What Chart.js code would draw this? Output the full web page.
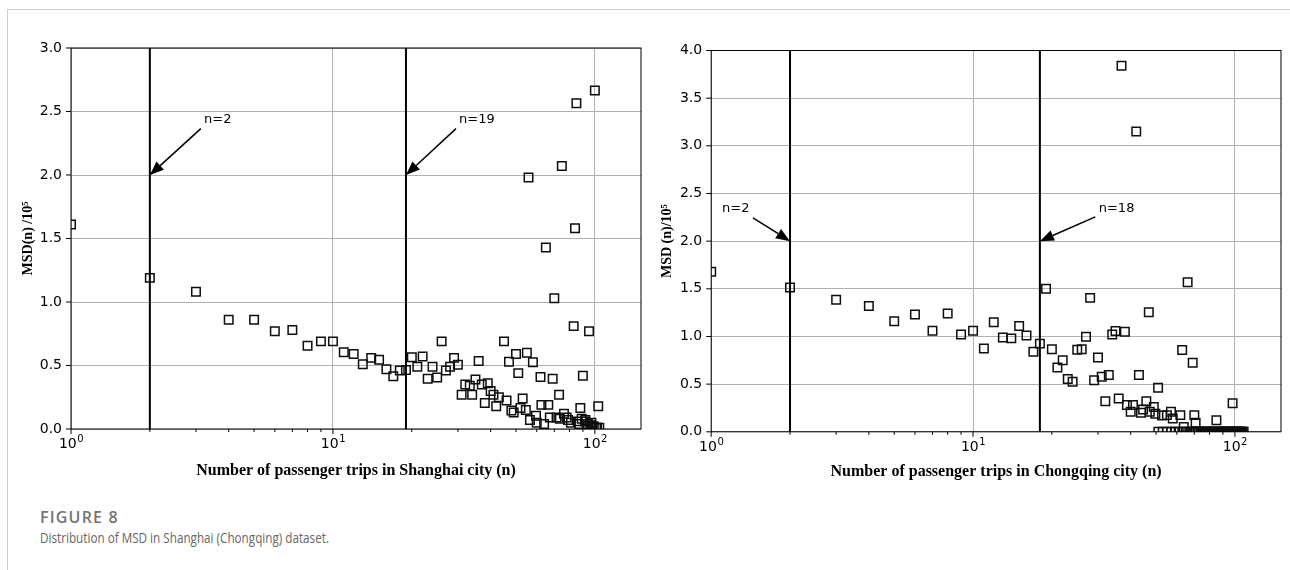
<!DOCTYPE html>
<html>
<head>
<meta charset="utf-8">
<script src="https://cdn.jsdelivr.net/npm/chart.js@4.4.1/dist/chart.umd.min.js"></script>
<style>
  html, body { margin: 0; padding: 0; background: #fff; }
  body { width: 1290px; height: 570px; position: relative; overflow: hidden; }
  .frame { position: absolute; left: 7px; top: 9px; right: 0; bottom: 0;
           border-top: 1px solid #cdcdcd; border-left: 1px solid #cdcdcd; }
  #shanghai { position: absolute; left: 0; top: 0; }
  #chongqing { position: absolute; left: 645px; top: 0; }
  .fig { position: absolute; left: 40px; top: 507px; font: 600 16px/20px "Open Sans", sans-serif;
         letter-spacing: 1.2px; color: #737373; white-space: nowrap; }
  .desc { position: absolute; left: 40px; top: 527px; font: 400 15px/20px "Open Sans", sans-serif;
          color: #666; white-space: nowrap; transform: scaleX(0.78); transform-origin: left top; }
</style>
</head>
<body>
<div class="frame"></div>
<canvas id="shanghai" width="650" height="500"></canvas>
<canvas id="chongqing" width="645" height="500"></canvas>
<div class="fig">FIGURE 8</div>
<div class="desc">Distribution of MSD in Shanghai (Chongqing) dataset.</div>
<script>
// Shanghai: number of trips n and MSD(n)/10^5
const shTrips = [1, 2, 3, 4, 5, 6, 7, 8, 9, 10, 11, 12, 13, 14, 15, 16, 17, 18, 19, 20,
  21, 22, 23, 24, 25, 26, 27, 28, 29, 30, 31, 32, 33.3, 34, 35, 36, 37, 38, 39, 40,
  41, 42, 43, 45, 46, 47, 48, 49, 50, 51, 52, 53, 54.5, 55, 55.8, 56.5, 58, 59.6, 60, 62,
  62.5, 64, 65, 66.4, 67.3, 69, 70, 71.4, 73, 73.5, 74.8, 76.2, 78, 79, 81, 83, 84, 85, 86, 87,
  88, 89, 90, 91.6, 92, 93, 94, 95, 96, 97, 98, 99, 100, 101, 102, 103, 104];
const shMsd = [1.61, 1.19, 1.08, 0.86, 0.86, 0.77, 0.78, 0.655, 0.69, 0.69, 0.605, 0.59, 0.51, 0.56, 0.545, 0.47, 0.415, 0.46, 0.465, 0.565,
  0.49, 0.57, 0.395, 0.49, 0.405, 0.69, 0.46, 0.49, 0.56, 0.505, 0.27, 0.35, 0.34, 0.27, 0.39, 0.535, 0.35, 0.205, 0.36, 0.30,
  0.27, 0.18, 0.25, 0.69, 0.225, 0.53, 0.145, 0.13, 0.59, 0.44, 0.165, 0.24, 0.15, 0.60, 1.98, 0.07, 0.525, 0.105, 0.05, 0.41,
  0.19, 0.04, 1.43, 0.19, 0.09, 0.395, 1.03, 0.09, 0.27, 0.08, 2.07, 0.12, 0.09, 0.07, 0.05, 0.81, 1.58, 2.565, 0.06, 0.04,
  0.165, 0.08, 0.42, 0.06, 0.07, 0.025, 0.04, 0.77, 0.03, 0.05, 0.02, 0.02, 2.665, 0.01, 0.01, 0.18, 0.01];

// Chongqing: number of trips n and MSD(n)/10^5
const cqTrips = [1, 2, 3, 4, 5, 6, 7, 8, 9, 10, 11, 12, 13, 14, 15, 16, 17, 18, 19, 20,
  21, 22, 23, 24, 25, 26, 27, 28, 29, 30, 31, 32, 33, 34, 35, 36, 36.9, 38, 38.7, 40,
  40.8, 42, 43, 43.8, 44.6, 45.9, 46.9, 47.3, 49, 49.7, 50.9, 52.7, 55, 57, 57.9, 61.9, 62.9, 63.8, 66, 69,
  70, 70.8, 85, 98,
  51, 53, 55, 57, 59, 61, 63, 65, 67, 69, 70, 71, 72, 73, 74, 75, 76, 77, 78, 79,
  80, 81, 82, 83, 84, 85, 86, 87, 88, 89, 90, 91, 92, 93, 94, 95, 96, 97, 98, 99,
  100, 101, 102, 103, 104, 105, 106, 107, 108];
const cqMsd = [1.68, 1.515, 1.385, 1.32, 1.16, 1.23, 1.06, 1.24, 1.02, 1.06, 0.875, 1.15, 0.99, 0.98, 1.11, 1.01, 0.84, 0.925, 1.50, 0.865,
  0.675, 0.75, 0.555, 0.525, 0.86, 0.865, 0.998, 1.405, 0.54, 0.78, 0.578, 0.32, 0.595, 1.02, 1.057, 0.35, 3.84, 1.05, 0.28, 0.21,
  0.28, 3.15, 0.595, 0.20, 0.235, 0.32, 1.255, 0.21, 0.26, 0.19, 0.463, 0.17, 0.175, 0.21, 0.14, 0.175, 0.857, 0.05, 1.57, 0.725,
  0.175, 0.095, 0.12, 0.30,
  0, 0, 0, 0, 0, 0, 0, 0, 0, 0, 0, 0, 0, 0, 0, 0, 0, 0, 0, 0,
  0, 0, 0, 0, 0, 0, 0, 0, 0, 0, 0, 0, 0, 0, 0, 0, 0, 0, 0, 0,
  0, 0, 0, 0, 0, 0, 0, 0, 0];

// log axis ticks; the decades carry a "10^k" label
const xTickValues = [1, 2, 3, 4, 5, 6, 7, 8, 9, 10, 20, 30, 40, 50, 60, 70, 80, 90, 100];
const xTickExponents = { 1: '0', 10: '1', 100: '2' };

const tickFont = { family: 'DejaVu Sans', size: 14 };
const titleFont = { family: 'Liberation Serif', size: 16, weight: 'bold' };
const gridGray = '#b0b0b0';

// frame, tick marks, decade labels, threshold lines and arrow notes
const decorations = {
  id: 'decorations',
  afterDatasetsDraw(chart, args, opts) {
    const { ctx, chartArea: a, scales: { x, y } } = chart;
    ctx.save();
    ctx.strokeStyle = '#000';
    ctx.fillStyle = '#000';

    ctx.lineWidth = 2;
    opts.lines.forEach(n => {
      const px = x.getPixelForValue(n);
      ctx.beginPath();
      ctx.moveTo(px, a.top);
      ctx.lineTo(px, a.bottom);
      ctx.stroke();
    });

    ctx.lineWidth = 1;
    ctx.strokeRect(a.left, a.top, a.right - a.left, a.bottom - a.top);

    xTickValues.forEach(v => {
      const px = x.getPixelForValue(v);
      const len = xTickExponents[v] ? 5 : 3;
      ctx.beginPath();
      ctx.moveTo(px, a.bottom);
      ctx.lineTo(px, a.bottom + len);
      ctx.stroke();
    });
    y.ticks.forEach(t => {
      const py = y.getPixelForValue(t.value);
      ctx.beginPath();
      ctx.moveTo(a.left - 5, py);
      ctx.lineTo(a.left, py);
      ctx.stroke();
    });

    // decade labels: "10" with a raised exponent
    ctx.textBaseline = 'alphabetic';
    ctx.textAlign = 'left';
    Object.keys(xTickExponents).forEach(k => {
      const px = x.getPixelForValue(Number(k));
      const exp = xTickExponents[k];
      ctx.font = '14px "DejaVu Sans"';
      const w1 = ctx.measureText('10').width;
      ctx.font = '10px "DejaVu Sans"';
      const w2 = ctx.measureText(exp).width;
      const x0 = px - (w1 + w2) / 2;
      const base = a.bottom + 19;
      ctx.font = '14px "DejaVu Sans"';
      ctx.fillText('10', x0, base);
      ctx.font = '10px "DejaVu Sans"';
      ctx.fillText(exp, x0 + w1 + 0.5, base - 6);
    });

    ctx.font = '13px "DejaVu Sans"';
    ctx.textBaseline = 'middle';
    opts.notes.forEach(nt => {
      ctx.fillText(nt.text, x.getPixelForValue(nt.at[0]), y.getPixelForValue(nt.at[1]));
      const tx = x.getPixelForValue(nt.tail[0]), ty = y.getPixelForValue(nt.tail[1]);
      const hx = x.getPixelForValue(nt.head[0]), hy = y.getPixelForValue(nt.head[1]);
      const ang = Math.atan2(hy - ty, hx - tx);
      const L = 14, W = 5.5;
      const bx = hx - L * Math.cos(ang), by = hy - L * Math.sin(ang);
      ctx.lineWidth = 1.5;
      ctx.beginPath();
      ctx.moveTo(tx, ty);
      ctx.lineTo(bx, by);
      ctx.stroke();
      ctx.beginPath();
      ctx.moveTo(hx, hy);
      ctx.lineTo(bx - W * Math.sin(ang), by + W * Math.cos(ang));
      ctx.lineTo(bx + W * Math.sin(ang), by - W * Math.cos(ang));
      ctx.closePath();
      ctx.fill();
    });
    ctx.restore();
  }
};

function makeChart(id, trips, msd, yMax, xTitle, yTitle, box, lines, notes) {
  return new Chart(document.getElementById(id), {
    type: 'scatter',
    data: {
      datasets: [{
        data: trips.map((t, i) => ({ x: t, y: msd[i] })),
        pointStyle: 'rect',
        pointRadius: 6,
        pointBorderWidth: 1.5,
        pointBorderColor: '#0d0d0d',
        pointBackgroundColor: 'rgba(0,0,0,0)',
        clip: 0
      }]
    },
    options: {
      responsive: false,
      animation: false,
      events: [],
      layout: { padding: { top: box.top, right: box.right, left: 0, bottom: 0 } },
      plugins: {
        legend: { display: false },
        tooltip: { enabled: false },
        decorations: { lines: lines, notes: notes }
      },
      scales: {
        x: {
          type: 'logarithmic',
          min: 1,
          max: 150,
          afterBuildTicks: s => { s.ticks = xTickValues.map(v => ({ value: v })); },
          afterFit: s => { s.height = box.axisH; },
          ticks: { autoSkip: false, maxRotation: 0, padding: 5, font: tickFont, callback: () => '' },
          grid: { drawTicks: false, lineWidth: 1,
                  color: c => (c.tick && xTickExponents[c.tick.value] ? gridGray : 'rgba(0,0,0,0)') },
          border: { display: false },
          title: { display: true, text: xTitle, color: '#000', font: titleFont, padding: box.xTitlePad }
        },
        y: {
          min: 0,
          max: yMax,
          afterFit: s => { s.width = box.axisW; },
          ticks: { stepSize: 0.5, padding: 9, color: '#000', font: tickFont, callback: v => v.toFixed(1) },
          grid: { drawTicks: false, color: gridGray, lineWidth: 1 },
          border: { display: false },
          title: { display: true, text: yTitle, color: '#000',
                   font: { family: 'Liberation Serif', size: 14, weight: 'bold' }, padding: box.yTitlePad }
        }
      }
    },
    plugins: [decorations]
  });
}

makeChart('shanghai', shTrips, shMsd, 3.0,
  'Number of passenger trips in Shanghai city (n)', 'MSD(n) /10\u2075',
  { top: 48, right: 9, axisW: 71, axisH: 71, xTitlePad: 19.5, yTitlePad: 19.6 },
  [2, 19],
  [
    { text: 'n=2', at: [3.22, 2.435], tail: [3.13, 2.365], head: [2, 2.0] },
    { text: 'n=19', at: [30.3, 2.435], tail: [29.5, 2.365], head: [19, 2.0] }
  ]);

makeChart('chongqing', cqTrips, cqMsd, 4.0,
  'Number of passenger trips in Chongqing city (n)', 'MSD (n)/10\u2075',
  { top: 50.5, right: 9, axisW: 66.2, axisH: 68.2, xTitlePad: 18.5, yTitlePad: 13.6 },
  [2, 18],
  [
    { text: 'n=2', at: [1.10, 2.338], tail: [1.444, 2.244], head: [2, 2.0] },
    { text: 'n=18', at: [30.2, 2.338], tail: [29.3, 2.254], head: [18, 2.0] }
  ]);
</script>
</body>
</html>
